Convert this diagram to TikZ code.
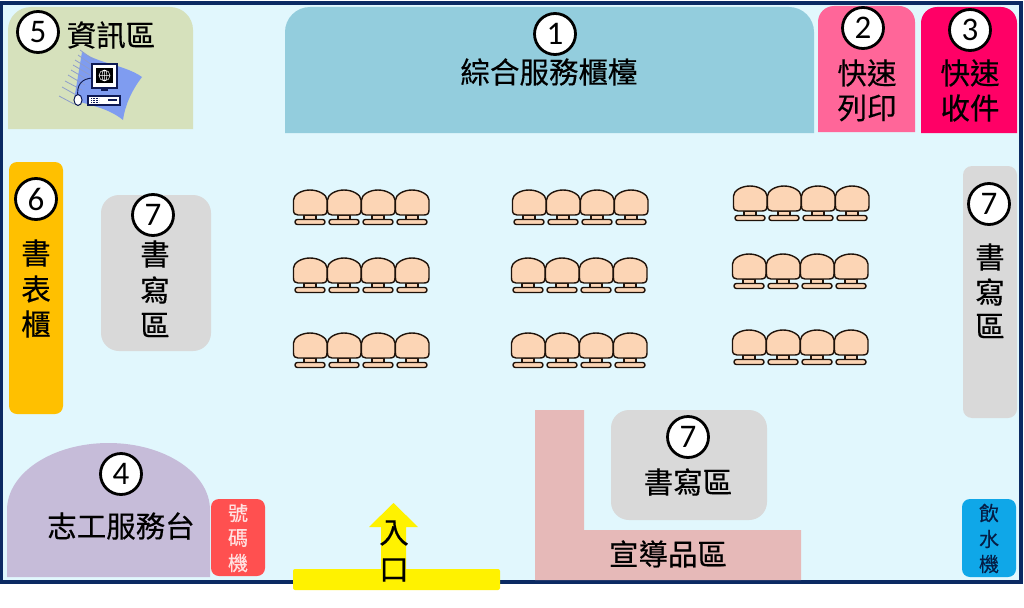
\documentclass[tikz,border=0pt]{standalone}
\usepackage{fontspec}
\setmainfont[FakeBold=0.35]{Noto Sans CJK TC}
\newfontfamily\numfont{Carlito}
\definecolor{floorc}{HTML}{E1F7FD}
\definecolor{framec}{HTML}{0B2A63}
\definecolor{seatc}{HTML}{FCD5B5}
\definecolor{seatl}{HTML}{1E120A}
\definecolor{iconb}{HTML}{7F9CF0}
\definecolor{iconl}{HTML}{8E9DCB}
\definecolor{iconk}{HTML}{0E1A55}
\definecolor{infoc}{RGB}{214,225,188}
\definecolor{deskc}{RGB}{147,205,221}
\definecolor{printc}{RGB}{255,102,153}
\definecolor{recvc}{RGB}{255,0,102}
\definecolor{formc}{RGB}{255,192,0}
\definecolor{writec}{RGB}{217,217,217}
\definecolor{promoc}{RGB}{230,185,184}
\definecolor{volc}{RGB}{198,188,217}
\definecolor{numc}{RGB}{255,80,80}
\definecolor{waterc}{RGB}{15,167,232}
\definecolor{numt}{RGB}{255,225,225}
\definecolor{watert}{RGB}{5,30,70}
\tikzset{
  x=1pt,y=-1pt,
  lbl/.style={font=\fontsize{29.5}{29.5}\selectfont,text=black,inner sep=0pt,anchor=center},
  lblsmall/.style={font=\fontsize{20}{20}\selectfont,inner sep=0pt,anchor=center},
  badge/.style={circle,draw=black,line width=2.8pt,fill=white,minimum size=41pt,inner sep=0pt,font=\numfont\fontsize{33}{33}\selectfont},
  seatline/.style={draw=seatl,fill=seatc,line width=1.4pt},
  chair/.pic={
    \path[seatline] (11,25) rectangle (23,30);
    \path[seatline] (5,25) .. controls (2,25) and (0.5,23.5) .. (0.5,20)
      -- (0.5,10) .. controls (0.5,5) and (8,0) .. (17,0) .. controls (26,0) and (34,5) .. (34,10)
      -- (34,20) .. controls (34,23.5) and (32.5,25) .. (29,25) -- cycle;
    \path[seatline,rounded corners=2.4pt] (2,29.5) rectangle (32,34.5);
  },
  chairrow/.pic={
    \pic at (0,0) {chair};
    \pic at (34,0) {chair};
    \pic at (68,0) {chair};
    \pic at (102,0) {chair};
  }
}
\begin{document}
\begin{tikzpicture}
\useasboundingbox (0,0) rectangle (1024,607);
\fill[white] (0,0) rectangle (1024,607);
\path[fill=floorc,draw=framec,line width=3.2pt] (1.5,3) rectangle (1021,582);
% zones
\fill[infoc] (8,129) -- (8,30) arc[start angle=180,end angle=270,radius=23] -- (170,7) arc[start angle=270,end angle=360,radius=23] -- (193,129) -- cycle;
\fill[deskc] (285,133) -- (285,32) arc[start angle=180,end angle=270,radius=25] -- (789,7) arc[start angle=270,end angle=360,radius=25] -- (814,133) -- cycle;
\fill[printc] (818,132) -- (818,22) arc[start angle=180,end angle=270,radius=16] -- (899,6) arc[start angle=270,end angle=360,radius=16] -- (915,132) -- cycle;
\fill[recvc] (921,133) -- (921,23) arc[start angle=180,end angle=270,radius=16] -- (1001,7) arc[start angle=270,end angle=360,radius=16] -- (1017,133) -- cycle;
\fill[formc,rounded corners=8pt] (9,162) rectangle (63,414);
\fill[writec,rounded corners=18pt] (101,195) rectangle (211,351);
\fill[writec,rounded corners=9pt] (963,166) rectangle (1017,418);
\fill[writec,rounded corners=18pt] (611,410) rectangle (767,520);
\fill[promoc] (535,410) -- (584,410) -- (584,530) -- (801,530) -- (801,580) -- (535,580) -- cycle;
\fill[volc] (7,577) -- (7,510) arc[start angle=180,end angle=360,x radius=101.5,y radius=67] -- (210,577) -- cycle;
\fill[numc,rounded corners=8pt] (211,499) rectangle (265,576);
\fill[waterc,rounded corners=8pt] (962,499) rectangle (1016,577);
% entrance
\fill[yellow,rounded corners=2pt] (293,569) rectangle (500,590);
\fill[yellow] (393.5,503) -- (418,527) -- (406,527) -- (406,572) -- (381,572) -- (381,527) -- (369,527) -- cycle;
% icon
\fill[iconb] (82,52) .. controls (100,64) and (125,65) .. (142,77) .. controls (132,90) and (125,105) .. (123,120) .. controls (108,108) and (92,106) .. (74,100) -- cycle;
\draw[iconl,line width=.8pt]
  (80,50) -- (94,60) (78,55) -- (92,65) (75,60) -- (91,70) (73,65) -- (90,75) (71,70) -- (88,80) (68,75) -- (85,85) (65,81) -- (82,90) (62,87) -- (78,96) (59,96) -- (74,104);
\draw[iconk,line width=.9pt] (78,98) .. controls (76,84) and (82,79) .. (92,78);
\path[draw=iconk,fill=white,line width=1pt] (78,100) ellipse[x radius=4,y radius=5.5];
\path[draw=iconk,fill=white,line width=1.4pt] (92,64) rectangle (117,88);
\fill[black] (96,68) rectangle (113,83);
\draw[white,line width=.5pt] (104.5,75.5) circle[radius=5.5] (99,75.5) -- (110,75.5) (104.5,70) -- (104.5,81) (104.5,75.5) ellipse[x radius=2.5,y radius=5.5];
\fill[iconk] (101,88) rectangle (108,91);
\path[draw=iconk,fill=white,line width=1.3pt] (88,96) rectangle (120,105);
\fill[iconk] (108,99) rectangle (117,101);
\draw[iconk,line width=.6pt,densely dotted] (91,98.5) -- (99,98.5) (91,100.5) -- (99,100.5) (91,102.5) -- (99,102.5);
% chairs
\pic at (293,190) {chairrow};
\pic at (512,190) {chairrow};
\pic at (733,186) {chairrow};
\pic at (293,258) {chairrow};
\pic at (511,258) {chairrow};
\pic at (732,254) {chairrow};
\pic at (293,333) {chairrow};
\pic at (511,333) {chairrow};
\pic at (732,330) {chairrow};
% badges
\node[badge] (b1) at (555,34) {1};
\node[badge] (b2) at (863,28) {2};
\node[badge] (b3) at (970,30) {3};
\node[badge] (b4) at (121,474) {4};
\node[badge] (b5) at (38,32) {5};
\node[badge] (b6) at (36,199) {6};
\node[badge] (b7a) at (153,215) {7};
\node[badge] (b7b) at (989,204) {7};
\node[badge] (b7c) at (688,437) {7};
% labels
\node[lbl] (t1) at (549,72) {綜合服務櫃檯};
\node[lbl] (t2a) at (867,73) {快速};
\node[lbl] (t2b) at (867,108) {列印};
\node[lbl] (t3a) at (970,73) {快速};
\node[lbl] (t3b) at (970,108) {收件};
\node[lbl] (t5) at (111,35) {資訊區};
\node[lbl] (t6a) at (36,253) {書};
\node[lbl] (t6b) at (36,289) {表};
\node[lbl] (t6c) at (36,324) {櫃};
\node[lbl] (t7a) at (155,254) {書};
\node[lbl] (t7b) at (155,290) {寫};
\node[lbl] (t7c) at (155,325) {區};
\node[lbl] (t8a) at (990,257) {書};
\node[lbl] (t8b) at (990,292) {寫};
\node[lbl] (t8c) at (990,326) {區};
\node[lbl] (t9) at (688,482) {書寫區};
\node[lbl] (t10) at (668,554) {宣導品區};
\node[lbl] (t4) at (121,526) {志工服務台};
\node[lbl] (t11a) at (394,533) {入};
\node[lbl] (t11b) at (394,570) {口};
\node[lblsmall,text=numt] (t12a) at (238,513) {號};
\node[lblsmall,text=numt] (t12b) at (238,538) {碼};
\node[lblsmall,text=numt] (t12c) at (238,563) {機};
\node[lblsmall,text=watert] (t13a) at (989,513) {飲};
\node[lblsmall,text=watert] (t13b) at (989,539) {水};
\node[lblsmall,text=watert] (t13c) at (989,564) {機};
\end{tikzpicture}
\end{document}
